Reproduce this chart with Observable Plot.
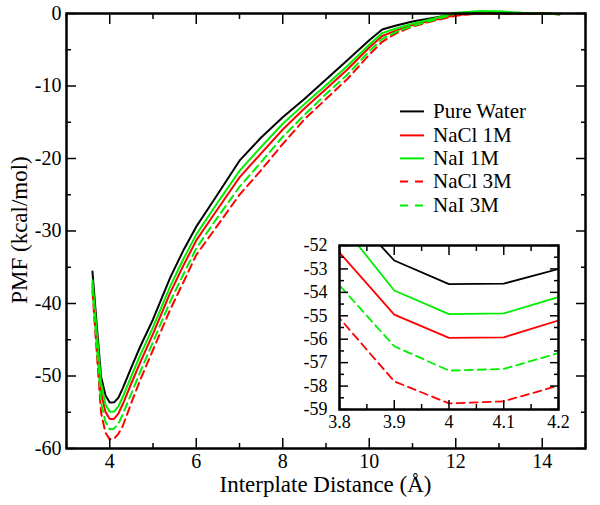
<!DOCTYPE html>
<html><head><meta charset="utf-8">
<script src="https://cdn.jsdelivr.net/npm/d3@7"></script>
<script src="https://cdn.jsdelivr.net/npm/@observablehq/plot@0.6"></script>
<style>
body{margin:0;background:#fff;}
#wrap{position:relative;width:600px;height:505px;font-family:"Liberation Serif","Tinos","Times New Roman","DejaVu Serif",serif;color:#000;overflow:hidden;}
#wrap svg{position:absolute;}
.title{position:absolute;font-size:23px;line-height:23px;white-space:nowrap;}
.lg{position:absolute;left:400px;height:20px;font-size:21px;line-height:20px;white-space:nowrap;}
.lg svg{position:absolute;left:0;top:0;}
.lg span{position:absolute;display:block;left:33px;top:0;height:20px;line-height:20px;overflow:visible;}
</style></head><body><div id="wrap"></div>
<script>
// ---- data ----
const distance = [3.6, 3.7, 3.8, 3.9, 4.0, 4.1, 4.2, 4.3, 4.5, 4.7, 5.0, 5.4, 5.7, 6.0, 6.4, 7.0, 7.5, 8.0, 8.5, 9.0, 9.5, 10.0, 10.3, 10.6, 11.0, 11.5, 12.0, 12.5, 13.0, 13.5, 14.0, 14.4];
const pureWater = [-35.6, -43.0, -50.1, -52.64, -53.65, -53.63, -53.0, -51.7, -48.8, -46.0, -42.2, -36.4, -32.7, -29.4, -25.8, -20.3, -17.1, -14.3, -11.8, -9.1, -6.4, -3.7, -2.2, -1.7, -1.1, -0.6, -0.05, 0.1, 0.05, 0.0, 0.0, -0.1];
const nacl1M = [-37.3, -44.8, -52.3, -54.95, -55.94, -55.92, -55.2, -53.9, -51.0, -48.2, -44.2, -38.5, -34.8, -31.3, -27.8, -22.6, -19.3, -16.0, -13.1, -10.4, -7.7, -4.7, -3.1, -2.4, -1.6, -0.9, -0.2, 0.0, 0.0, 0.0, 0.0, -0.1];
const nai1M = [-36.8, -44.0, -51.0, -53.92, -54.93, -54.9, -54.2, -52.9, -50.0, -47.2, -43.3, -37.6, -33.9, -30.5, -26.9, -21.7, -18.4, -15.2, -12.5, -9.9, -7.2, -4.3, -2.7, -2.1, -1.4, -0.7, 0.1, 0.3, 0.3, 0.1, 0.0, -0.1];
const nacl3M = [-38.3, -46.8, -55.1, -57.8, -58.74, -58.65, -57.98, -56.9, -53.7, -50.6, -46.4, -40.8, -37.1, -33.3, -30.0, -25.0, -21.6, -18.0, -14.6, -11.8, -9.0, -5.7, -3.9, -2.8, -1.8, -1.0, -0.3, 0.0, 0.0, 0.0, 0.0, -0.1];
const nai3M = [-37.8, -45.8, -53.7, -56.3, -57.34, -57.27, -56.59, -55.3, -52.4, -49.5, -45.3, -39.7, -36.0, -32.4, -28.9, -23.9, -20.5, -17.0, -14.0, -11.1, -8.4, -5.2, -3.5, -2.6, -1.7, -0.9, 0.0, 0.3, 0.2, 0.1, 0.0, -0.1];

const seriesNames = ["Pure Water", "NaCl 1M", "NaI 1M", "NaCl 3M", "NaI 3M"];
const seriesValues = [pureWater, nacl1M, nai1M, nacl3M, nai3M];
const seriesColors = ["#000000", "#ff0000", "#00ee00", "#ff0000", "#00ee00"];
const seriesDash = [null, null, null, "8,5", "8,5"];

const mainXMajor = [4, 6, 8, 10, 12, 14];
const mainXMinor = [3, 5, 7, 9, 11, 13, 15];
const mainYMajor = [-60, -50, -40, -30, -20, -10, 0];
const mainYMinor = [-55, -45, -35, -25, -15, -5];
const insetXMajor = [3.8, 3.9, 4.0, 4.1, 4.2];
const insetXMinor = [3.85, 3.95, 4.05, 4.15];
const insetYMajor = [-59, -58, -57, -56, -55, -54, -53, -52];
const insetYMinor = [-58.5, -57.5, -56.5, -55.5, -54.5, -53.5, -52.5];

const xTitle = "Interplate Distance (Å)";
const yTitle = "PMF (kcal/mol)";

const FONT = '"Liberation Serif", Tinos, "Times New Roman", "DejaVu Serif", serif';

// ---- build table ----
const table = seriesValues.flatMap((vals, i) => distance.map((x, j) => ({x, y: vals[j], series: seriesNames[i]})));

function lineMarks(strokeWidth, clip) {
  return seriesNames.map((name, i) => Plot.line(table.filter(d => d.series === name), {
    x: "x", y: "y", stroke: seriesColors[i], strokeWidth,
    strokeDasharray: seriesDash[i] || undefined, clip
  }));
}
function inTicks(axisFn, anchor, ticks, size, sw) {
  return axisFn({anchor, ticks, tickSize: -size, tickFormat: () => "", label: null, strokeWidth: sw});
}
const fmt = d => String(+(+d).toFixed(2));

const wrap = document.getElementById("wrap");

const main = Plot.plot({
  width: 600, height: 505,
  marginLeft: 66, marginRight: 15, marginTop: 13, marginBottom: 57,
  x: {domain: [3, 15], label: null},
  y: {domain: [-60, 0], label: null},
  style: {fontFamily: FONT, fontSize: "20px", background: "white", color: "black"},
  marks: [
    ...lineMarks(2, false),
    inTicks(Plot.axisX, "bottom", mainXMajor, 10, 1.5),
    inTicks(Plot.axisX, "bottom", mainXMinor, 5, 1.5),
    inTicks(Plot.axisX, "top", mainXMajor, 10, 1.5),
    inTicks(Plot.axisX, "top", mainXMinor, 5, 1.5),
    inTicks(Plot.axisY, "left", mainYMajor, 10, 1.5),
    inTicks(Plot.axisY, "left", mainYMinor, 5, 1.5),
    inTicks(Plot.axisY, "right", mainYMajor, 10, 1.5),
    inTicks(Plot.axisY, "right", mainYMinor, 5, 1.5),
    Plot.axisX({anchor: "bottom", ticks: mainXMajor, tickSize: 0, tickPadding: 5, tickFormat: fmt, label: null, fontSize: 20}),
    Plot.axisY({anchor: "left", ticks: mainYMajor, tickSize: 0, tickPadding: 5, tickFormat: fmt, label: null, fontSize: 20}),
    Plot.frame({stroke: "black", strokeWidth: 2.5})
  ]
});
main.style.left = "0px"; main.style.top = "0px";
wrap.appendChild(main);

const inset = Plot.plot({
  width: 278, height: 199,
  marginLeft: 45, marginRight: 14, marginTop: 5, marginBottom: 30,
  x: {domain: [3.8, 4.2], label: null},
  y: {domain: [-59, -52], label: null},
  style: {fontFamily: FONT, fontSize: "18px", background: "transparent", color: "black", overflow: "visible"},
  marks: [
    ...lineMarks(1.8, true),
    inTicks(Plot.axisX, "bottom", insetXMajor, 9, 1.5),
    inTicks(Plot.axisX, "bottom", insetXMinor, 5, 1.5),
    inTicks(Plot.axisX, "top", insetXMajor, 9, 1.5),
    inTicks(Plot.axisX, "top", insetXMinor, 5, 1.5),
    inTicks(Plot.axisY, "left", insetYMajor, 9, 1.5),
    inTicks(Plot.axisY, "left", insetYMinor, 5, 1.5),
    inTicks(Plot.axisY, "right", insetYMajor, 9, 1.5),
    inTicks(Plot.axisY, "right", insetYMinor, 5, 1.5),
    Plot.axisX({anchor: "bottom", ticks: insetXMajor, tickSize: 0, tickPadding: 6, tickFormat: fmt, label: null, fontSize: 18}),
    Plot.axisY({anchor: "left", ticks: insetYMajor, tickSize: 0, tickPadding: 12, tickFormat: fmt, label: null, fontSize: 18}),
    Plot.frame({stroke: "black", strokeWidth: 2.5})
  ]
});
inset.style.left = "294px"; inset.style.top = "240px";
wrap.appendChild(inset);

// titles
const xt = document.createElement("div");
xt.className = "title"; xt.textContent = xTitle;
xt.style.left = "66px"; xt.style.width = "519px"; xt.style.textAlign = "center"; xt.style.top = "473px";
wrap.appendChild(xt);
const yt = document.createElement("div");
yt.className = "title"; yt.textContent = yTitle;
yt.style.left = "19px"; yt.style.top = "230px"; yt.style.transform = "translate(-50%,-50%) rotate(-90deg)";
wrap.appendChild(yt);

// legend
seriesNames.forEach((name, i) => {
  const row = document.createElement("div");
  row.className = "lg";
  row.style.top = (147.9 + 23.3 * (i - 2)) + "px";
  row.style.width = "170px";
  const dash = seriesDash[i] ? `stroke-dasharray="8,7"` : "";
  row.innerHTML = `<svg width="24" height="20"><line x1="0" x2="24" y1="10.4" y2="10.4" stroke="${seriesColors[i]}" stroke-width="2" ${dash}/></svg><span>${name}</span>`;
  wrap.appendChild(row);
});
</script>
</body></html>
